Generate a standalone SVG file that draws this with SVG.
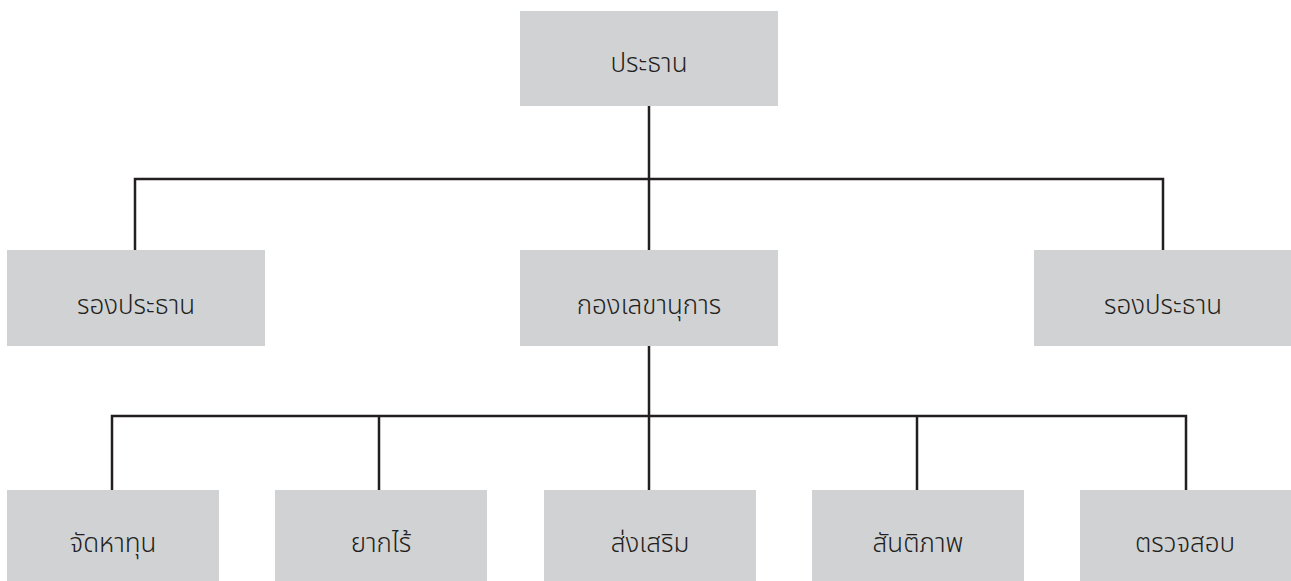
<svg xmlns="http://www.w3.org/2000/svg" width="1291" height="581" viewBox="0 0 1291 581">
<style>
.box{fill:#d1d2d4}
.lbl{font-family:"Noto Sans Thai","Noto Sans","Liberation Sans",sans-serif;font-size:26px;font-weight:300;fill:#231f20;text-anchor:middle}
.ln{stroke:#231f20;stroke-width:2.5;fill:none}
</style>
<rect width="1291" height="581" fill="#ffffff"/>
<g id="connectors">
<path class="ln" d="M649,106 V179 M135,250 V179 H1163 V250 M649,179 V250"/>
<path class="ln" d="M649,346 V416 M112,490 V416 H1186 V490 M379,416 V490 M649,416 V490 M917,416 V490"/>
</g>
<g id="n-president"><rect class="box" x="520" y="11" width="258" height="95"/><text class="lbl" x="649" y="72">ประธาน</text></g>
<g id="n-vp-left"><rect class="box" x="7" y="250" width="258" height="96"/><text class="lbl" x="136" y="314">รองประธาน</text></g>
<g id="n-secretary"><rect class="box" x="520" y="250" width="258" height="96"/><text class="lbl" x="649" y="314">กองเลขานุการ</text></g>
<g id="n-vp-right"><rect class="box" x="1034" y="250" width="257" height="96"/><text class="lbl" x="1163" y="314">รองประธาน</text></g>
<g id="n-fund"><rect class="box" x="7" y="490" width="212" height="91"/><text class="lbl" x="113" y="552">จัดหาทุน</text></g>
<g id="n-poor"><rect class="box" x="275" y="490" width="212" height="91"/><text class="lbl" x="381" y="552">ยากไร้</text></g>
<g id="n-promote"><rect class="box" x="544" y="490" width="212" height="91"/><text class="lbl" x="650" y="552">ส่งเสริม</text></g>
<g id="n-peace"><rect class="box" x="812" y="490" width="212" height="91"/><text class="lbl" x="918" y="552">สันติภาพ</text></g>
<g id="n-audit"><rect class="box" x="1080" y="490" width="211" height="91"/><text class="lbl" x="1185" y="552">ตรวจสอบ</text></g>
</svg>
